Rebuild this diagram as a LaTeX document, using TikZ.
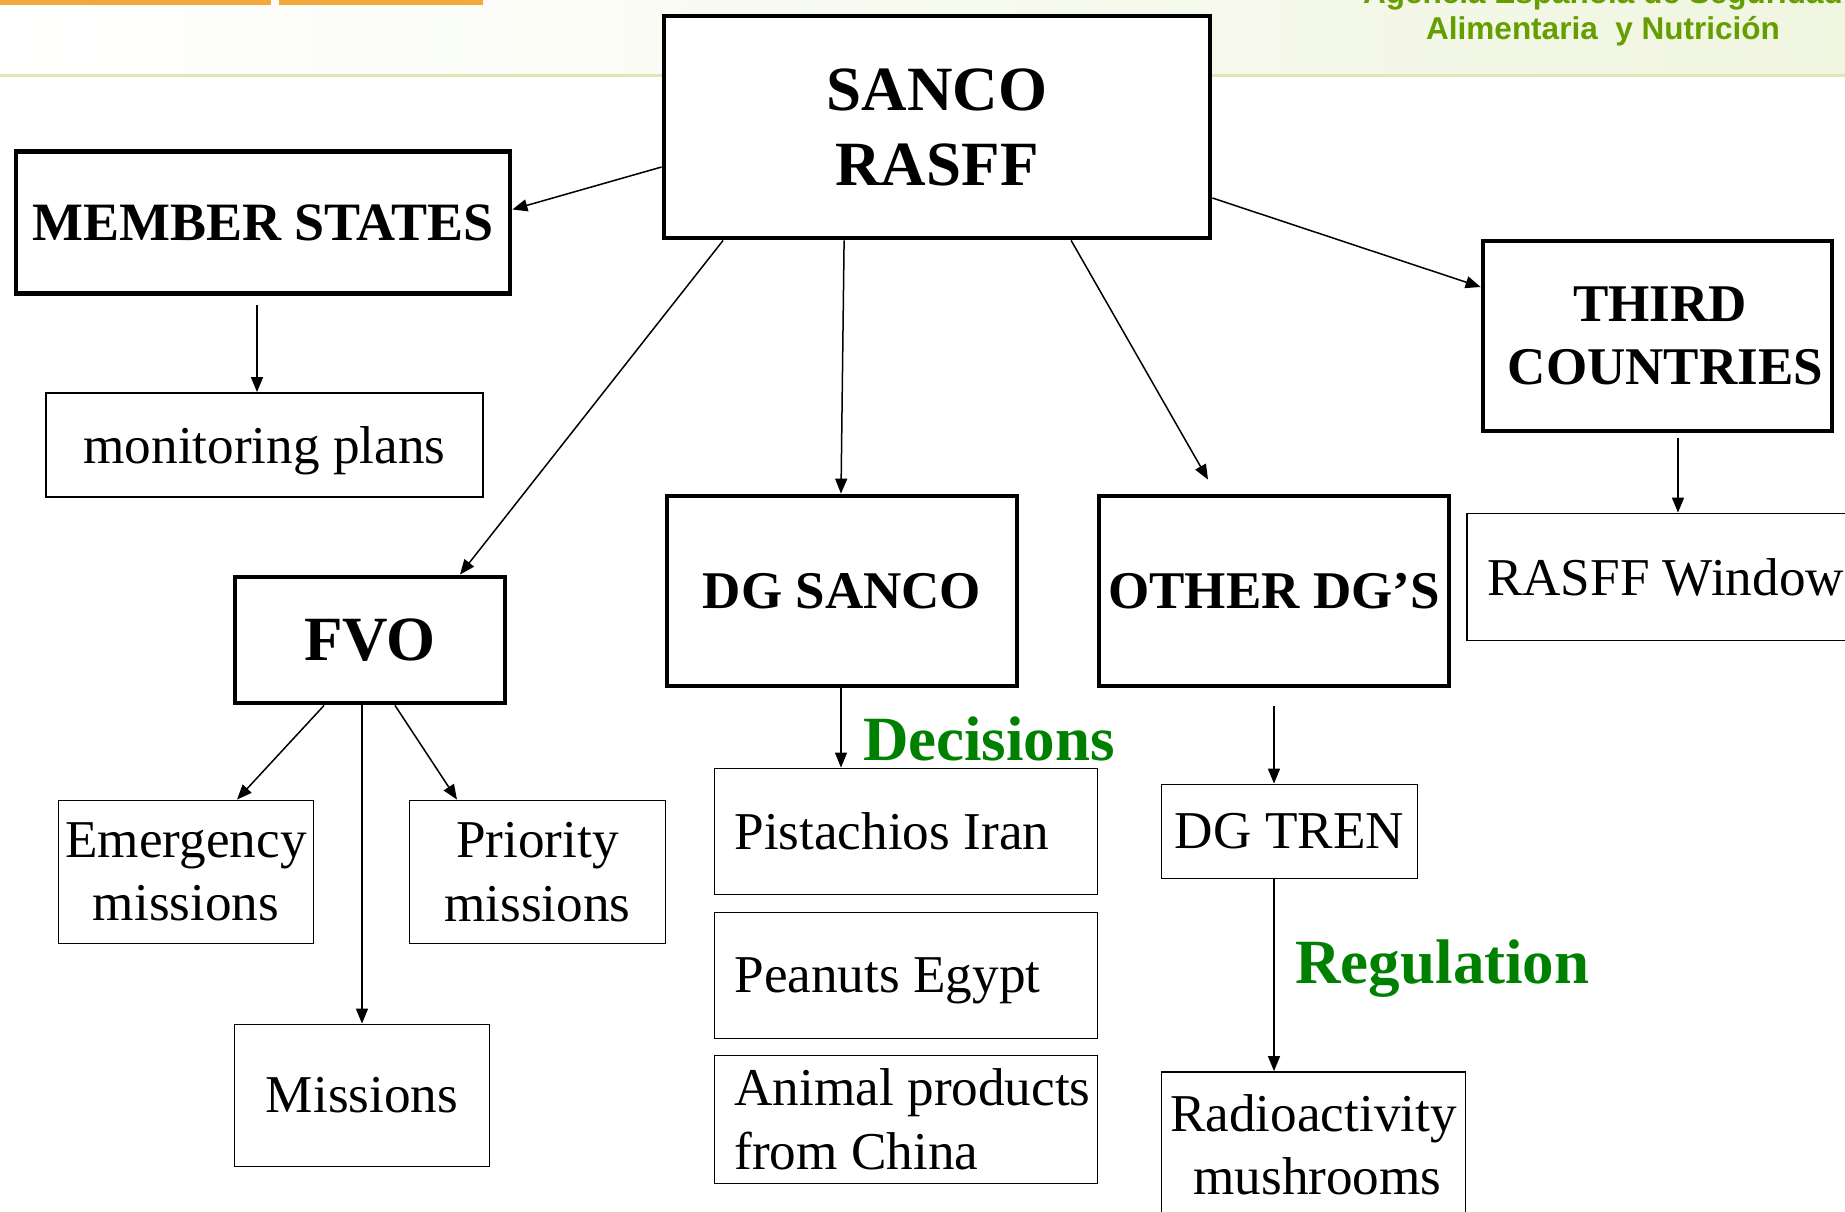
\documentclass[tikz,border=0pt]{standalone}
\usepackage{fontspec}
\setmainfont{Liberation Serif}
\newfontfamily\hdrfont{Liberation Sans}
\usetikzlibrary{arrows.meta}
\definecolor{hdrgreen}{RGB}{100,158,0}
\definecolor{lblgreen}{RGB}{0,128,0}
\definecolor{barorange}{RGB}{242,168,58}
\definecolor{hdrline}{RGB}{221,232,181}
\definecolor{hdrbg}{RGB}{240,245,224}
\begin{document}
\begin{tikzpicture}[x=1pt,y=-1pt,
  bigbox/.style={draw, line width=4.8pt, fill=white, inner sep=0pt, align=center,
    font=\bfseries\fontsize{53}{63}\selectfont},
  smallbox/.style={draw, line width=1.8pt, fill=white, inner sep=0pt, align=center,
    font=\fontsize{53.2}{63.5}\selectfont},
  leftbox/.style={smallbox, align=flush left, text width=343pt},
  arr/.style={-{Triangle[length=15pt,width=12pt]}, line width=1.5pt},
  greenlbl/.style={text=lblgreen, inner sep=0pt, font=\bfseries\fontsize{63}{75}\selectfont},
  hdrtext/.style={text=hdrgreen, inner sep=0pt, anchor=base, font=\hdrfont\bfseries\fontsize{31.5}{36}\selectfont}
]
\useasboundingbox (0,0) rectangle (1845,1212);
% header
\shade[left color=white, right color=hdrbg] (0,0) rectangle (1845,76);
\draw[hdrline, line width=3pt] (0,76) -- (1845,76);
\fill[barorange] (0,0) rectangle (271,5);
\fill[barorange] (279,0) rectangle (483,5);
\node[hdrtext] (hdra) at (1603,4) {Agencia Española de Seguridad};
\node[hdrtext] (hdrb) at (1603,40) {Alimentaria\ \ y Nutrición};

% boxes
\node[bigbox, minimum width=546pt, minimum height=222pt,
  font=\bfseries\fontsize{63}{75}\selectfont] (sanco) at (937,127) {SANCO\\RASFF};
\node[bigbox, minimum width=494pt, minimum height=142pt,
  font=\bfseries\fontsize{54}{63}\selectfont] (member) at (263,222.5) {MEMBER STATES};
\node[smallbox, minimum width=437pt, minimum height=104pt, text depth=0pt] (monitor) at (264.5,445) {monitoring plans};
\node[bigbox, minimum width=270pt, minimum height=126pt,
  font=\bfseries\fontsize{63}{75}\selectfont] (fvo) at (370,640) {FVO};
\node[bigbox, minimum width=350pt, minimum height=190pt] (dgsanco) at (842,591) {DG SANCO};
\node[bigbox, minimum width=350pt, minimum height=190pt] (other) at (1274,591) {OTHER DG’S};
\node[bigbox, minimum width=349pt, minimum height=190pt] (third) at (1657.5,336) {\hspace*{5pt}THIRD\\\hspace*{16pt}COUNTRIES};
\node[smallbox, minimum width=420pt, minimum height=127pt, align=flush left, text width=380pt] (window) at (1677,577) {RASFF Window};
\node[smallbox, minimum width=255pt, minimum height=143pt] (emerg) at (186,872) {Emergency\\missions};
\node[smallbox, minimum width=256pt, minimum height=143pt] (prio) at (537.5,872) {Priority\\missions};
\node[smallbox, minimum width=255pt, minimum height=142pt] (missions) at (362,1095.5) {Missions};
\node[leftbox, minimum width=383pt, minimum height=126pt] (pist) at (906,831.5) {Pistachios Iran};
\node[leftbox, minimum width=383pt, minimum height=126pt, text depth=0pt] (pean) at (906,975.5) {Peanuts Egypt};
\node[leftbox, minimum width=383pt, minimum height=128pt] (animal) at (906,1119.5) {\mbox{Animal products}\\from China};
\node[smallbox, minimum width=256pt, minimum height=94pt] (dgtren) at (1289.5,831.5) {DG TREN};
\node[smallbox, minimum width=304pt, minimum height=146pt] (radio) at (1313.5,1145) {Radioactivity\\\hspace*{8pt}mushrooms};

% green labels
\node[greenlbl] (decisions) at (989,739) {Decisions};
\node[greenlbl] (regulation) at (1442.5,969) {Regulation};

% connectors
\coordinate (otherend) at ([xshift=-66pt,yshift=14pt]other.north);
\draw[arr] ([yshift=-40pt]sanco.west) -- ([yshift=13pt]member.east);
\draw[arr] ([xshift=-6pt,yshift=-9pt]member.south) -- ([xshift=-7.5pt]monitor.north);
\draw[arr] ([xshift=61.5pt]sanco.south west) -- ([xshift=90pt]fvo.north);
\draw[arr] ([xshift=182.5pt]sanco.south west) -- ([xshift=-1pt]dgsanco.north);
\draw[arr] ([xshift=409.5pt]sanco.south west) -- (otherend);
\draw[arr] ([yshift=-71pt]sanco.east) -- ([yshift=49pt]third.west);
\draw[arr] ([xshift=20.5pt,yshift=-5pt]third.south) -- ([xshift=1pt]window.north);
\draw[arr] ([xshift=91.5pt]fvo.south west) -- ([xshift=51pt]emerg.north);
\draw[arr] ([xshift=-8pt]fvo.south) -- (missions.north);
\draw[arr] ([xshift=25pt]fvo.south) -- ([xshift=-80.5pt]prio.north);
\draw[arr] ([xshift=-1pt]dgsanco.south) -- ([xshift=-65pt]pist.north);
\draw[arr] ([yshift=-18pt]other.south) -- ([xshift=-15.5pt]dgtren.north);
\draw[arr] ([xshift=-15.5pt]dgtren.south) -- ([xshift=-39.5pt]radio.north);
\end{tikzpicture}
\end{document}
